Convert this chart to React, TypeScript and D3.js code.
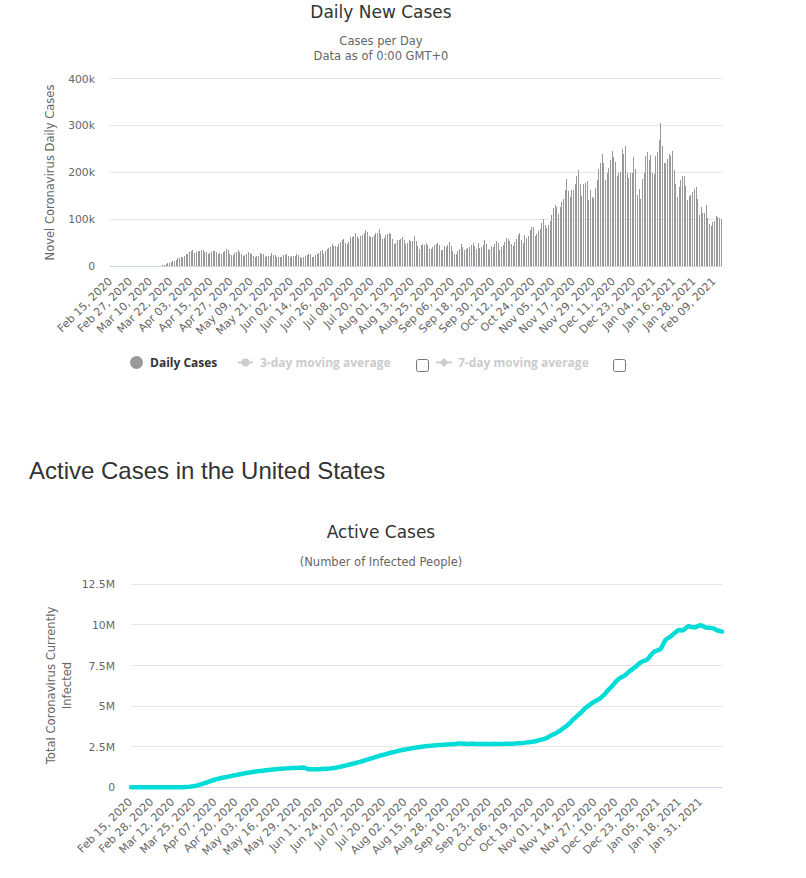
import React from "react";
import * as d3 from "d3";

// ---------- DATA ----------
const startDate = new Date(2020, 1, 15);

// Daily new cases (one value per day, Feb 15 2020 .. Feb 13 2021)
const dailyFeb2020 = [0, 0, 0, 0, 0, 0, 1, 0, 0, 18, 0, 4, 1, 3, 6];
const dailyMar2020 = [8, 21, 22, 34, 74, 105, 95, 121, 200, 271, 287, 351, 511, 777, 823, 887, 1766, 2988, 4835, 5594, 7340, 7926, 10571, 9893, 12038, 18058, 17821, 19821, 19408, 20921, 26341];
const dailyApr2020 = [25200, 30390, 31824, 33264, 28219, 29595, 32105, 32449, 34052, 33752, 29861, 28917, 25306, 27051, 30148, 31667, 32165, 29057, 26612, 28123, 25985, 29973, 31900, 36188, 33955, 26543, 22412, 24385, 27326, 29515];
const dailyMay2020 = [34037, 29078, 25501, 22335, 23976, 25516, 29162, 27246, 25621, 20329, 18196, 22048, 20782, 27368, 25050, 24994, 18873, 21841, 20289, 21551, 27246, 23297, 22577, 19608, 19790, 18370, 19064, 22658, 24266, 25069, 20350];
const dailyJun2020 = [20152, 21882, 20578, 21140, 25337, 22838, 18902, 17598, 18361, 21291, 23300, 25559, 25639, 19412, 20000, 23561, 26071, 28000, 32412, 33388, 26079, 31390, 36015, 38386, 40184, 46787, 43581, 42199, 41513, 47545];
const dailyJul2020 = [52048, 56507, 57236, 49089, 46455, 50396, 62192, 62346, 63214, 70000, 64381, 60060, 64237, 66470, 70123, 77217, 73212, 64165, 62120, 61893, 65445, 71262, 71434, 78428, 68213, 58164, 59845, 66121, 68025, 70234, 69152];
const dailyAug2020 = [58000, 47000, 49000, 55000, 55500, 58500, 62000, 56000, 48000, 50000, 55000, 54000, 53000, 64000, 53000, 43000, 37000, 45000, 46000, 45000, 50000, 45000, 36000, 36000, 41000, 44000, 46000, 50000, 44000, 35000, 35000];
const dailySep2020 = [42000, 40000, 45000, 52000, 42000, 32000, 26000, 26000, 33000, 36000, 47000, 41000, 35000, 36000, 38000, 40000, 45000, 49000, 42000, 36000, 50000, 39000, 40000, 45000, 55000, 46000, 36000, 35000, 43000, 41000];
const dailyOct2020 = [46000, 54000, 49000, 35000, 41000, 45000, 51000, 59000, 58000, 54000, 46000, 42000, 51000, 58000, 66000, 70000, 56000, 49000, 66000, 60000, 63000, 77000, 84000, 84000, 64000, 68000, 75000, 80000, 91000, 100000, 87000];
const dailyNov2020 = [82000, 87000, 95000, 108000, 123000, 131000, 126000, 111000, 126000, 136000, 143000, 163000, 186000, 160000, 147000, 163000, 162000, 176000, 193000, 204000, 176000, 150000, 174000, 177000, 182000, 140000, 163000, 147000, 145000, 166000];
const dailyDec2020 = [184000, 206000, 220000, 238000, 220000, 183000, 199000, 209000, 227000, 246000, 232000, 221000, 193000, 199000, 200000, 250000, 238000, 256000, 199000, 188000, 199000, 199000, 233000, 207000, 152000, 165000, 143000, 186000, 199000, 234000, 243000];
const dailyJan2021 = [226000, 236000, 199000, 197000, 234000, 243000, 270000, 306000, 256000, 219000, 219000, 229000, 238000, 234000, 246000, 204000, 176000, 147000, 169000, 184000, 193000, 193000, 171000, 141000, 150000, 152000, 159000, 164000, 169000, 143000, 109000];
const dailyFeb2021 = [126000, 113000, 113000, 131000, 102000, 90000, 86000, 94000, 97000, 106000, 104000, 102000, 100000];

// Active cases, in thousands
const activeFeb2020 = [0.015, 0.015, 0.015, 0.015, 0.015, 0.015, 0.016, 0.016, 0.016, 0.034, 0.034, 0.038, 0.039, 0.044, 0.05];
const activeMar2020 = [0.055, 0.07, 0.09, 0.12, 0.19, 0.29, 0.38, 0.49, 0.69, 0.95, 1.2, 1.5, 2.0, 2.7, 3.4, 4.2, 5.9, 8.8, 13.5, 19, 26, 33, 45, 58, 75, 95, 120, 148, 178, 208, 240];
const activeApr2020 = [275, 310, 345, 380, 420, 450, 478, 505, 530, 555, 580, 600, 620, 640, 660, 680, 700, 725, 745, 765, 785, 805, 823, 843, 862, 878, 893, 908, 925, 945];
const activeMay2020 = [960, 975, 988, 1000, 1012, 1025, 1037, 1050, 1062, 1072, 1080, 1090, 1100, 1110, 1120, 1130, 1137, 1143, 1150, 1157, 1165, 1172, 1178, 1183, 1188, 1192, 1196, 1200, 1205, 1210, 1215];
const activeJun2020 = [1205, 1160, 1110, 1105, 1108, 1112, 1110, 1108, 1112, 1118, 1122, 1128, 1135, 1138, 1142, 1150, 1160, 1172, 1186, 1202, 1222, 1244, 1266, 1290, 1314, 1338, 1362, 1385, 1408, 1432];
const activeJul2020 = [1458, 1485, 1512, 1538, 1562, 1590, 1620, 1652, 1685, 1718, 1750, 1778, 1808, 1838, 1870, 1903, 1935, 1962, 1988, 2015, 2043, 2072, 2100, 2130, 2155, 2175, 2198, 2225, 2250, 2275, 2300];
const activeAug2020 = [2318, 2332, 2350, 2368, 2385, 2405, 2425, 2440, 2452, 2465, 2480, 2495, 2508, 2525, 2537, 2545, 2552, 2562, 2572, 2582, 2592, 2600, 2605, 2610, 2618, 2625, 2633, 2642, 2648, 2652, 2658];
const activeSep2020 = [2665, 2672, 2680, 2690, 2695, 2690, 2682, 2676, 2672, 2670, 2675, 2678, 2675, 2670, 2668, 2665, 2668, 2672, 2675, 2672, 2668, 2665, 2662, 2665, 2672, 2676, 2672, 2668, 2666, 2665];
const activeOct2020 = [2668, 2675, 2678, 2675, 2672, 2675, 2680, 2690, 2700, 2706, 2708, 2712, 2722, 2735, 2750, 2768, 2780, 2788, 2800, 2815, 2835, 2860, 2890, 2920, 2940, 2962, 2990, 3040, 3090, 3150, 3210];
const activeNov2020 = [3255, 3300, 3350, 3405, 3470, 3545, 3620, 3690, 3760, 3840, 3930, 4030, 4140, 4240, 4320, 4410, 4500, 4590, 4690, 4800, 4900, 4970, 5040, 5110, 5190, 5250, 5310, 5365, 5410, 5480];
const activeDec2020 = [5570, 5660, 5760, 5880, 6000, 6100, 6200, 6310, 6430, 6540, 6640, 6720, 6770, 6820, 6880, 6960, 7050, 7140, 7220, 7290, 7360, 7440, 7530, 7620, 7700, 7750, 7780, 7820, 7870, 7980, 8120];
const activeJan2021 = [8230, 8320, 8390, 8420, 8460, 8500, 8650, 8850, 9050, 9140, 9200, 9260, 9340, 9430, 9520, 9600, 9670, 9690, 9660, 9670, 9750, 9830, 9900, 9910, 9880, 9860, 9870, 9860, 9910, 9960, 9980];
const activeFeb2021 = [9930, 9880, 9840, 9830, 9820, 9810, 9810, 9770, 9720, 9660, 9640, 9610, 9590];

const dailyYTicks = [0, 100000, 200000, 300000, 400000];
const dailyYTickLabels = ["0", "100k", "200k", "300k", "400k"];
const activeYTicks = [0, 2500000, 5000000, 7500000, 10000000, 12500000];
const activeYTickLabels = ["0", "2.5M", "5M", "7.5M", "10M", "12.5M"];
const legendItems = ["Daily Cases", "3-day moving average", "7-day moving average"];

const dailyCases = [
  ...dailyFeb2020, ...dailyMar2020, ...dailyApr2020, ...dailyMay2020, ...dailyJun2020,
  ...dailyJul2020, ...dailyAug2020, ...dailySep2020, ...dailyOct2020, ...dailyNov2020,
  ...dailyDec2020, ...dailyJan2021, ...dailyFeb2021,
];
const activeCases = [
  ...activeFeb2020, ...activeMar2020, ...activeApr2020, ...activeMay2020, ...activeJun2020,
  ...activeJul2020, ...activeAug2020, ...activeSep2020, ...activeOct2020, ...activeNov2020,
  ...activeDec2020, ...activeJan2021, ...activeFeb2021,
].map((v) => v * 1000);

const dates = d3.range(dailyCases.length).map((i) => d3.timeDay.offset(startDate, i));
const fmtDate = d3.timeFormat("%b %d, %Y");

// ---------- STYLE ----------
const HC = '"DejaVu Sans", Verdana, sans-serif';
const LEG = '"Open Sans", "DejaVu Sans", sans-serif';
const GRID = "#e6e6e6";
const AXIS = "#ccd6eb";
const LABEL = "#666666";

export default function App() {
  // top chart scales
  const x1 = d3.scaleBand<number>().domain(d3.range(dailyCases.length)).range([110, 722]).padding(0);
  const y1 = d3.scaleLinear().domain([0, 400000]).range([266, 78.6]);
  // bottom chart scales
  const x2 = d3.scaleLinear().domain([0, activeCases.length - 1]).range([131, 722]);
  const y2 = d3.scaleLinear().domain([0, 12500000]).range([787.3, 584.3]);

  const line = d3
    .line<number>()
    .x((_, i) => x2(i))
    .y((d) => y2(d))
    .curve(d3.curveLinear);

  const topTickIdx = d3.range(0, dailyCases.length, 12);
  const botTickIdx = d3.range(0, activeCases.length - 1, 13);

  return (
    <div style={{ position: "absolute", left: 0, top: 0, width: 806, height: 878, background: "#fff" }}>
      <svg width={806} height={878} style={{ display: "block" }}>
        {/* ===== Top chart ===== */}
        <text x={381} y={17.5} textAnchor="middle" fontFamily={HC} fontSize={17} fill="#333333">
          Daily New Cases
        </text>
        <text x={381} y={45} textAnchor="middle" fontFamily={HC} fontSize={11.5} fill={LABEL}>
          Cases per Day
        </text>
        <text x={381} y={60} textAnchor="middle" fontFamily={HC} fontSize={11.5} fill={LABEL}>
          Data as of 0:00 GMT+0
        </text>

        {dailyYTicks.map((t, k) => {
          const yy = Math.floor(y1(t)) + 0.5;
          return (
            <g key={"g1" + k}>
              {t !== 0 && <line x1={110} x2={722} y1={yy} y2={yy} stroke={GRID} strokeWidth={1} />}
              <text x={95} y={y1(t) + 4} textAnchor="end" fontFamily={HC} fontSize={10.8} fill={LABEL}>
                {dailyYTickLabels[k]}
              </text>
            </g>
          );
        })}

        <text
          transform={`translate(50,172.5) rotate(-90)`}
          textAnchor="middle"
          dy="0.35em"
          fontFamily={HC}
          fontSize={11.5}
          fill={LABEL}
        >
          Novel Coronavirus Daily Cases
        </text>

        {dailyCases.map((v, i) => {
          const cx = x1(i)! + x1.bandwidth() / 2;
          const top = y1(v);
          return (
            <rect
              key={"b" + i}
              x={Math.floor(cx)}
              y={top}
              width={1}
              height={Math.max(0, 266 - top)}
              fill="#999999"
              shapeRendering="crispEdges"
            />
          );
        })}
        <line x1={110} x2={722} y1={266.5} y2={266.5} stroke={AXIS} strokeWidth={1} />

        {topTickIdx.map((i) => {
          const cx = x1(i)! + x1.bandwidth() / 2;
          return (
            <text
              key={"tl" + i}
              transform={`translate(${cx + 2},282) rotate(-45)`}
              textAnchor="end"
              fontFamily={HC}
              fontSize={11}
              fill={LABEL}
            >
              {fmtDate(dates[i])}
            </text>
          );
        })}

        {/* Legend */}
        <circle cx={136.5} cy={362.5} r={6.5} fill="#999999" />
        <text x={150} y={366.8} fontFamily={LEG} fontSize={12} fontWeight="bold" fill="#333333">
          {legendItems[0]}
        </text>
        <line x1={238} x2={253} y1={362.5} y2={362.5} stroke="#cccccc" strokeWidth={2} />
        <circle cx={245.5} cy={362.5} r={4} fill="#cccccc" />
        <text x={260} y={366.8} fontFamily={LEG} fontSize={12} fontWeight="bold" fill="#cccccc">
          {legendItems[1]}
        </text>
        <rect x={416.5} y={359.5} width={12} height={12} rx={2} fill="#fff" stroke="#767676" strokeWidth={1} />
        <line x1={436} x2={452} y1={362.5} y2={362.5} stroke="#cccccc" strokeWidth={2} />
        <path d="M444,358 L448.5,362.5 L444,367 L439.5,362.5 Z" fill="#cccccc" />
        <text x={458} y={366.8} fontFamily={LEG} fontSize={12} fontWeight="bold" fill="#cccccc">
          {legendItems[2]}
        </text>
        <rect x={613.5} y={359.5} width={12} height={12} rx={2} fill="#fff" stroke="#767676" strokeWidth={1} />

        {/* ===== Section heading ===== */}
        <text x={29} y={479} fontFamily='"Liberation Sans", Arial, sans-serif' fontSize={24} fill="#333333">
          Active Cases in the United States
        </text>

        {/* ===== Bottom chart ===== */}
        <text x={381} y={537.7} textAnchor="middle" fontFamily={HC} fontSize={17} fill="#333333">
          Active Cases
        </text>
        <text x={381} y={566} textAnchor="middle" fontFamily={HC} fontSize={11.5} fill={LABEL}>
          (Number of Infected People)
        </text>

        {activeYTicks.map((t, k) => {
          const yy = Math.floor(y2(t)) + 0.5;
          return (
            <g key={"g2" + k}>
              {t !== 0 && <line x1={131} x2={722} y1={yy} y2={yy} stroke={GRID} strokeWidth={1} />}
              <text x={115} y={y2(t) + 4} textAnchor="end" fontFamily={HC} fontSize={10.8} fill={LABEL}>
                {activeYTickLabels[k]}
              </text>
            </g>
          );
        })}

        <g transform="translate(59,685.5) rotate(-90)" fontFamily={HC} fontSize={11.6} fill={LABEL}>
          <text x={0} y={-8} textAnchor="middle" dy="0.35em">
            Total Coronavirus Currently
          </text>
          <text x={0} y={8} textAnchor="middle" dy="0.35em">
            Infected
          </text>
        </g>

        <line x1={131} x2={722} y1={787.5} y2={787.5} stroke={AXIS} strokeWidth={1} />

        <path
          d={line(activeCases) || ""}
          fill="none"
          stroke="#00ddd8"
          strokeWidth={4.5}
          strokeLinejoin="round"
          strokeLinecap="round"
        />

        {botTickIdx.map((i) => (
          <text
            key={"bl" + i}
            transform={`translate(${x2(i) + 2},802.5) rotate(-45)`}
            textAnchor="end"
            fontFamily={HC}
            fontSize={11}
            fill={LABEL}
          >
            {fmtDate(dates[i])}
          </text>
        ))}
      </svg>
    </div>
  );
}
